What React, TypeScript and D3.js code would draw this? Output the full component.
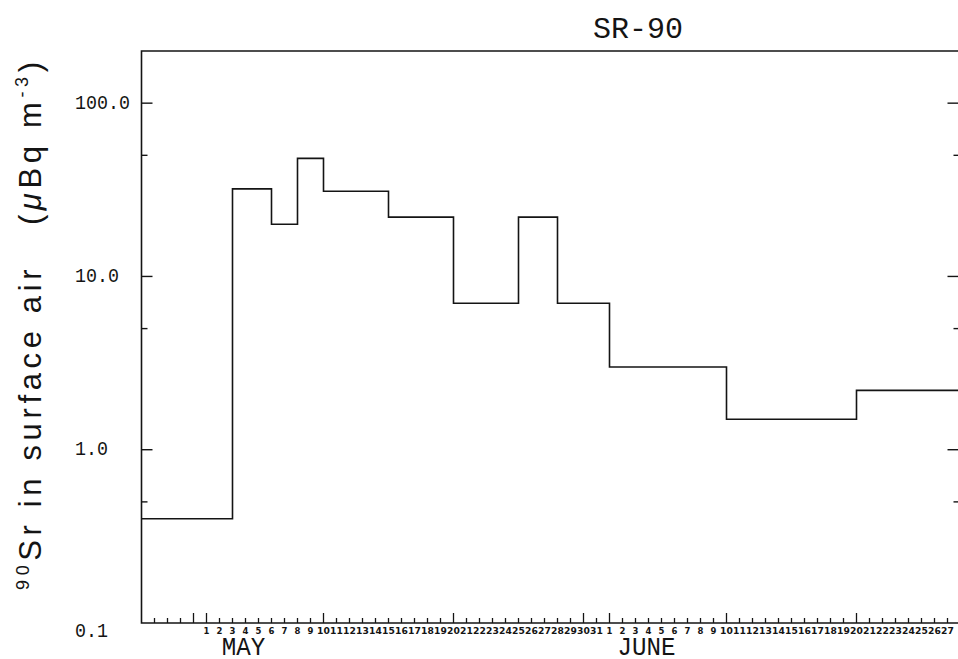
import { scaleLog, scaleUtc, line, curveStepAfter, utcDay } from "d3";

// step data: start date of each sampling period and its Sr-90 concentration
const stepStarts = [
    "1986-04-26", "1986-05-03", "1986-05-06", "1986-05-08", "1986-05-10", "1986-05-15",
    "1986-05-20", "1986-05-25", "1986-05-28", "1986-06-01", "1986-06-10", "1986-06-20",
];
const stepValues = [0.4, 32, 20, 48, 31, 22, 7.0, 22, 7.0, 3.0, 1.5, 2.2];
const seriesEnd = "1986-06-28";

const majorTicks = [0.1, 1, 10, 100];
const majorLabels = ["0.1", "1.0", "10.0", "100.0"];
const minorTicks = [0.5, 5, 50];

const months = [
    { label: "MAY", start: "1986-05-01" },
    { label: "JUNE", start: "1986-06-01" },
];

const title = "SR-90";

const d = (s: string) => new Date(s + "T00:00:00Z");

export default function App() {
    const left = 141.5;
    const right = 960.5;
    const top = 51;
    const bottom = 623;

    const x = scaleUtc().domain([d("1986-04-26"), d(seriesEnd)]).range([left, right]);
    const y = scaleLog().domain([0.1, 200]).range([bottom, top]);

    const pts: [Date, number][] = stepStarts.map((s, i) => [d(s), stepValues[i]]);
    pts.push([d(seriesEnd), stepValues[stepValues.length - 1]]);
    const path = line<[Date, number]>()
        .x(p => x(p[0]))
        .y(p => y(p[1]))
        .curve(curveStepAfter)(pts);

    const days = utcDay.range(d("1986-04-27"), d(seriesEnd));
    const labelDays = utcDay.range(d("1986-05-01"), d(seriesEnd));

    const ink = "#141414";

    return (
        <svg width={958} height={659} style={{ position: "absolute", left: 0, top: 0, background: "#fff" }}>
            {/* frame */}
            <path d={`M${right},${top}H${left}V${bottom}H${right}`} fill="none" stroke={ink} strokeWidth={1.6} />

            {/* y ticks, both sides */}
            {majorTicks.filter(t => t > 0.1).map(t => (
                <g key={`maj-${t}`}>
                    <line x1={left} x2={left + 11} y1={y(t)} y2={y(t)} stroke={ink} strokeWidth={1.4} />
                    <line x1={right - 13} x2={right} y1={y(t)} y2={y(t)} stroke={ink} strokeWidth={1.4} />
                </g>
            ))}
            {minorTicks.map(t => (
                <g key={`min-${t}`}>
                    <line x1={left} x2={left + 6} y1={y(t)} y2={y(t)} stroke={ink} strokeWidth={1.4} />
                    <line x1={right - 7} x2={right} y1={y(t)} y2={y(t)} stroke={ink} strokeWidth={1.4} />
                </g>
            ))}
            {majorTicks.map((t, i) => (
                <text key={`yl-${t}`} x={75} y={y(t) + (t === 0.1 ? 8 : 0)} dominantBaseline="central"
                    fontFamily="Liberation Mono" fontSize={20} fill={ink}
                    textLength={majorLabels[i].length * 11} lengthAdjust="spacingAndGlyphs">
                    {majorLabels[i]}
                </text>
            ))}

            {/* x ticks */}
            {days.map(day => {
                const n = day.getUTCDate();
                const big = n === 1 || n === 10 || n === 20 || n === 30;
                return (
                    <line key={`xt-${day.toISOString()}`} x1={x(day)} x2={x(day)} y1={bottom} y2={bottom - (big ? 10 : 5)}
                        stroke={ink} strokeWidth={1.3} />
                );
            })}
            {labelDays.map(day => {
                const n = day.getUTCDate();
                return (
                    <text key={`xl-${day.toISOString()}`} x={x(day)} y={634} textAnchor="middle"
                        fontFamily="DejaVu Sans" fontWeight="bold" fontSize={8.5} fill={ink}
                        textLength={n > 9 ? 12.8 : undefined} lengthAdjust="spacingAndGlyphs">
                        {n}
                    </text>
                );
            })}
            {months.map(m => (
                <text key={m.label} x={x(d(m.start)) + 37} y={655} textAnchor="middle"
                    fontFamily="Liberation Mono" fontSize={25} fill={ink}
                    textLength={m.label.length * 14.5} lengthAdjust="spacingAndGlyphs">
                    {m.label}
                </text>
            ))}

            {/* data */}
            <path d={path ?? ""} fill="none" stroke={ink} strokeWidth={1.6} />

            {/* title */}
            <text x={638} y={37.5} textAnchor="middle" fontFamily="Liberation Mono" fontSize={30} fill={ink}>
                {title}
            </text>

            {/* y axis label */}
            <text transform="translate(41, 326) rotate(-90)" textAnchor="middle" fontFamily="Liberation Sans"
                fontSize={31} fill={ink} textLength={528} style={{ whiteSpace: "pre" }}>
                <tspan fontSize={18} dy={-12}>90</tspan>
                <tspan dy={12}>Sr in surface air   (</tspan>
                <tspan fontStyle="italic">μ</tspan>
                <tspan>Bq m</tspan>
                <tspan fontSize={18} dy={-13}>-3</tspan>
                <tspan dy={13}>)</tspan>
            </text>
        </svg>
    );
}
